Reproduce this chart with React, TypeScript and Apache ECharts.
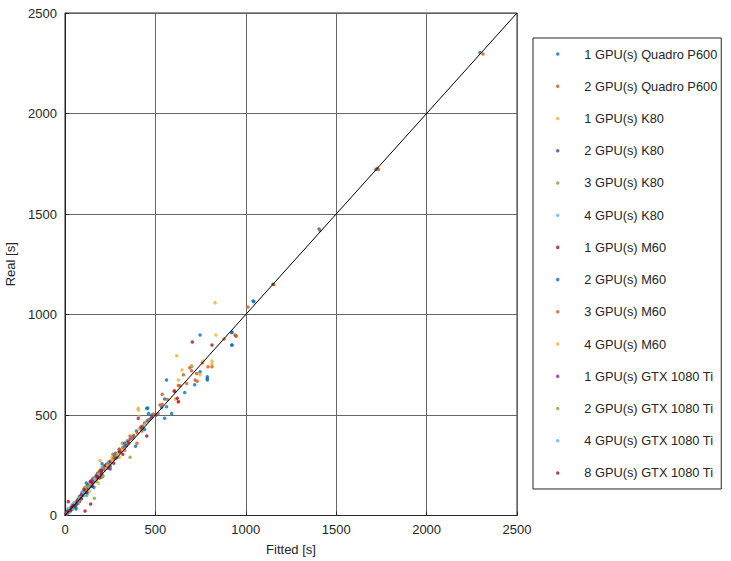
import React, { useEffect, useRef } from "react";
import * as echarts from "echarts";

const seriesNames = [
  "1 GPU(s) Quadro P600",
  "2 GPU(s) Quadro P600",
  "1 GPU(s) K80",
  "2 GPU(s) K80",
  "3 GPU(s) K80",
  "4 GPU(s) K80",
  "1 GPU(s) M60",
  "2 GPU(s) M60",
  "3 GPU(s) M60",
  "4 GPU(s) M60",
  "1 GPU(s) GTX 1080 Ti",
  "2 GPU(s) GTX 1080 Ti",
  "4 GPU(s) GTX 1080 Ti",
  "8 GPU(s) GTX 1080 Ti",
];

const colors = [
  "#0072BD", "#D95319", "#EDB120", "#7E2F8E", "#77AC30", "#4DBEEE", "#A2142F",
  "#0072BD", "#D95319", "#EDB120", "#7E2F8E", "#77AC30", "#4DBEEE", "#A2142F",
];

// [fitted, real]
const p600x1 = [
  [2295, 2304], [1405, 1425], [1720, 1722], [1150, 1150], [1040, 1067], [1045, 1064],
  [922, 909], [922, 848], [747, 898], [700, 743], [787, 674], [787, 682], [787, 690],
  [747, 715], [717, 651], [662, 612], [562, 674], [551, 580], [535, 537], [562, 541],
  [590, 508], [551, 484], [452, 533], [458, 535], [462, 508], [455, 470], [390, 344],
  [20, 25], [35, 30], [61, 32], [80, 95], [105, 118], [130, 150], [155, 170], [180, 210],
  [210, 235], [240, 265], [265, 280], [300, 330], [330, 345], [360, 380], [395, 420],
  [420, 430], [440, 460], [470, 480], [480, 500], [505, 500], [924, 913], [924, 848],
  [118, 162], [205, 258], [290, 290], [440, 428], [250, 232], [160, 140],
];
const p600x2 = [
  [2312, 2296], [1410, 1418], [1728, 1726], [1733, 1722], [1155, 1148], [1012, 1037],
  [946, 893], [940, 898], [880, 878], [813, 740], [791, 740], [728, 707], [700, 720],
  [690, 735], [720, 674], [731, 668], [673, 657], [627, 647], [636, 645], [605, 621],
  [538, 603], [567, 577], [525, 550], [538, 553], [515, 508], [398, 359], [946, 893],
  [15, 20], [40, 48], [70, 78], [95, 110], [120, 128], [145, 160], [175, 185], [200, 215],
  [225, 248], [250, 262], [285, 300], [310, 320], [345, 372], [370, 385], [400, 410],
  [430, 445], [460, 475], [490, 505], [655, 700], [760, 760], [265, 305], [330, 325],
  [190, 185], [110, 140], [360, 395],
];
const k80x1 = [
  [830, 1059], [835, 898], [764, 769], [813, 769], [813, 755], [618, 795], [647, 724],
  [747, 700], [627, 674], [610, 580], [627, 563], [405, 533], [405, 525], [409, 492],
  [194, 273], [30, 38], [60, 65], [90, 100], [115, 135], [150, 175], [170, 190],
  [195, 230], [220, 225], [260, 290], [280, 300], [320, 335], [350, 360], [380, 400],
  [410, 430], [445, 455], [700, 745], [240, 262], [300, 290], [135, 120], [185, 160],
];
const k80x2 = [
  [25, 30], [55, 60], [85, 95], [110, 125], [140, 165], [165, 178], [190, 215],
  [215, 245], [245, 255], [275, 295], [300, 315], [340, 350], [405, 483], [230, 250],
  [125, 140], [200, 190], [155, 185],
];
const k80x3 = [
  [20, 20], [50, 50], [75, 85], [100, 112], [130, 140], [162, 86], [160, 178], [190, 200],
  [230, 245], [260, 270], [317, 359], [360, 290], [90, 82], [210, 228], [120, 100],
  [280, 300],
];
const k80x4 = [
  [10, 15], [30, 35], [45, 52], [65, 72], [85, 90], [110, 120], [135, 155], [160, 170],
  [190, 205], [220, 230], [250, 260], [40, 55], [125, 110], [205, 240], [55, 40],
];
const m60x1 = [
  [18, 69], [111, 22], [142, 57], [60, 62], [100, 105], [150, 160], [200, 210], [250, 270],
  [300, 320], [350, 365], [452, 396], [605, 618], [621, 583], [627, 567], [704, 863],
  [813, 848], [420, 440], [480, 490], [175, 200], [225, 250], [10, 12], [125, 150],
  [270, 260], [80, 70], [320, 305],
];
const m60x2 = [
  [12, 18], [45, 42], [75, 80], [120, 140], [170, 195], [230, 255], [280, 310],
  [330, 360], [380, 395], [430, 435], [200, 220], [95, 115], [150, 145], [250, 245],
  [60, 40],
];
const m60x3 = [
  [25, 22], [65, 70], [115, 115], [165, 185], [215, 230], [270, 285], [320, 340],
  [375, 390], [425, 420], [140, 150], [245, 240], [190, 220], [300, 330],
];
const m60x4 = [
  [20, 28], [55, 58], [95, 108], [140, 150], [185, 205], [235, 250], [290, 305],
  [260, 275], [160, 180], [210, 200], [115, 140],
];
const gtxx1 = [
  [15, 12], [40, 42], [70, 75], [100, 100], [130, 135], [160, 168], [200, 205],
  [240, 235], [280, 285], [180, 195], [150, 175], [90, 105],
];
const gtxx2 = [
  [10, 8], [30, 28], [55, 62], [80, 78], [110, 108], [140, 145], [175, 170], [210, 195],
  [65, 55], [125, 145], [40, 30],
];
const gtxx4 = [
  [8, 10], [22, 30], [40, 38], [60, 55], [85, 88], [110, 100], [135, 140], [165, 180],
  [15, 35], [75, 60], [50, 62], [100, 120], [28, 18],
];
const gtxx8 = [
  [5, 8], [15, 22], [30, 25], [45, 50], [65, 60], [90, 85], [120, 115], [150, 145],
  [180, 190], [200, 225], [35, 40], [105, 130], [55, 48], [140, 170],
];

const seriesData = [
  p600x1, p600x2, k80x1, k80x2, k80x3, k80x4, m60x1,
  m60x2, m60x3, m60x4, gtxx1, gtxx2, gtxx4, gtxx8,
];

const diagonal = [[0, 0], [2500, 2500]];
const axisMin = 0;
const axisMax = 2500;
const axisStep = 500;

const FONT = "'Liberation Sans', Arial, Helvetica, sans-serif";
const TXT = "#262626";
const FS = 13;

export default function App() {
  const ref = useRef<HTMLDivElement>(null);
  useEffect(() => {
    if (!ref.current) return;
    const chart = echarts.init(ref.current, undefined, { renderer: "svg" });
    const scatter = seriesData.map((d, i) => ({
      name: seriesNames[i],
      type: "scatter",
      data: d,
      symbol: "circle",
      symbolSize: 3.5,
      itemStyle: { color: colors[i] },
      z: 2,
    }));
    chart.setOption({
      animation: false,
      backgroundColor: "#ffffff",
      textStyle: { fontFamily: FONT },
      grid: {
        left: 65,
        right: 214,
        top: 13,
        bottom: 45.5,
        show: true,
        borderColor: "#262626",
        borderWidth: 1,
        backgroundColor: "transparent",
        outerBoundsMode: "none",
        containLabel: false,
      },
      legend: {
        data: seriesNames,
        orient: "vertical",
        left: 533,
        top: 38,
        padding: [9, 4, 9, 23],
        itemGap: 18.23,
        itemWidth: 23,
        itemHeight: 3.5,
        icon: "circle",
        borderColor: "#262626",
        borderWidth: 1,
        backgroundColor: "#ffffff",
        selectedMode: false,
        textStyle: {
          fontSize: 12.8, color: TXT, fontFamily: FONT, lineHeight: 14,
          padding: [0, 0, 0, 10],
        },
      },
      xAxis: {
        type: "value",
        min: axisMin,
        max: axisMax,
        interval: axisStep,
        name: "Fitted [s]",
        nameLocation: "middle",
        nameGap: 27,
        nameTextStyle: { fontSize: FS, color: TXT, fontFamily: FONT },
        axisLine: { show: true, lineStyle: { color: "#262626", width: 1 } },
        axisTick: { show: true, inside: true, length: 4, lineStyle: { color: "#262626" } },
        axisLabel: {
          fontSize: FS, color: TXT, margin: 7, fontFamily: FONT,
          formatter: (v: number) => String(v),
        },
        splitLine: { show: true, lineStyle: { color: "#666666", width: 1 } },
      },
      yAxis: {
        type: "value",
        min: axisMin,
        max: axisMax,
        interval: axisStep,
        name: "Real [s]",
        nameLocation: "middle",
        nameGap: 39,
        nameTextStyle: { fontSize: FS, color: TXT, fontFamily: FONT },
        axisLine: { show: true, lineStyle: { color: "#262626", width: 1 } },
        axisTick: { show: true, inside: true, length: 4, lineStyle: { color: "#262626" } },
        axisLabel: {
          fontSize: FS, color: TXT, margin: 8, fontFamily: FONT,
          formatter: (v: number) => String(v),
        },
        splitLine: { show: true, lineStyle: { color: "#666666", width: 1 } },
      },
      series: [
        ...scatter,
        {
          name: "diagonal",
          type: "line",
          data: diagonal,
          symbol: "none",
          silent: true,
          lineStyle: { color: "#000000", width: 1 },
          z: 3,
        },
      ],
    });
    return () => chart.dispose();
  }, []);
  return (
    <div
      ref={ref}
      style={{ position: "fixed", left: 0, top: 0, width: 731, height: 561, background: "#fff" }}
    />
  );
}
